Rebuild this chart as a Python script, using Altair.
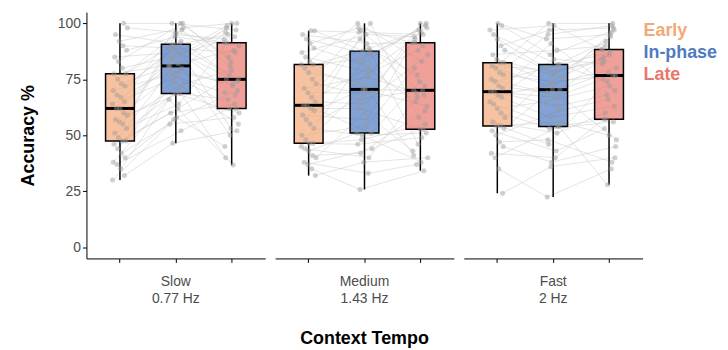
import altair as alt
import pandas as pd

FONT = "Liberation Sans"

tempos = ["Slow|0.77 Hz", "Medium|1.43 Hz", "Fast|2 Hz"]
conditions = ["Early", "In-phase", "Late"]
colors = ["#F3A878", "#4F7BC1", "#E8786D"]

# accuracy (%) per subject, in subject order, for each tempo x condition
slow_early = [30, 32, 35, 37, 38, 40, 42, 44, 46, 47.5, 47.5, 49, 51, 53, 55, 56, 57, 59, 60, 62,
              62, 64, 65, 67, 68, 70, 72, 73, 75, 77.5, 77.5, 80, 83, 85, 88, 90, 92, 95, 98, 100]
slow_inphase = [58, 46.5, 66, 52, 71, 57, 55, 80, 62, 74, 60, 86, 64, 68.7, 90, 73, 68.7, 95, 77, 81,
                100, 76, 84, 79, 92, 78, 88, 81, 97, 82, 90.7, 85, 100, 87, 94, 89, 98, 90.7, 96, 100]
slow_late = [45, 52, 36.7, 62, 40, 70, 58, 50, 75, 55, 64, 53, 91.3, 60, 68, 79, 66, 93, 62, 72,
             85, 69, 100, 73, 77, 96, 74, 88, 81, 98, 75, 94, 83, 99, 90, 87, 100, 95, 91.3, 97]

medium_early = [32, 35, 37, 38, 40, 41, 43, 44, 45, 46.4, 46.4, 48, 50, 53, 55, 57, 59, 61, 62, 63.4,
                63.4, 65, 67, 69, 71, 73, 75, 78, 80, 81.6, 81.6, 83, 85, 87, 89, 91, 93, 95, 96.7, 96.7]
medium_inphase = [38, 25.8, 44, 33, 60, 42, 51, 40, 72, 48, 46, 87.6, 54, 50, 66, 100, 57, 70.5, 62, 51,
                  80, 64, 93, 69, 76, 68, 97, 74, 89, 70.5, 84, 100, 78, 95, 82, 98, 86, 91, 87.6, 96]
medium_late = [40, 34.2, 52.7, 37, 43, 61, 38, 67, 41, 55, 49, 46, 80, 51, 70.1, 58, 93, 63, 52.7, 74,
               65, 86, 68, 100, 69, 91.3, 72, 96, 77, 70.1, 99, 83, 88, 94, 100, 90, 97, 91.3, 98, 95]

fast_early = [24.1, 35, 40, 42, 45, 47, 50, 52, 53, 54.2, 54.2, 56, 58, 60, 62, 64, 65, 67, 68, 69.5,
              69.5, 71, 72, 74, 75, 77, 78, 80, 81, 82.4, 82.4, 84, 86, 88, 90, 93, 95, 97, 99, 100]
fast_inphase = [36, 22.4, 53.9, 40, 38, 48, 61, 43, 70.4, 46, 56, 51, 77, 53, 65, 53.9, 84, 58, 72, 63,
                67, 91, 69, 81.6, 68, 74, 95, 70.4, 79, 73, 100, 76, 88, 78, 97, 80, 81.6, 99, 86, 93]
fast_late = [40, 35, 27.9, 57.2, 45, 38, 66, 53, 48, 76.7, 50, 60, 88.3, 56, 72, 57.2, 82, 63, 94, 68,
             75, 70, 96, 74, 85, 76.7, 99, 78, 83, 80, 100, 86, 90, 84, 98, 87, 92, 88.3, 97, 95]

values = {
    tempos[0]: [slow_early, slow_inphase, slow_late],
    tempos[1]: [medium_early, medium_inphase, medium_late],
    tempos[2]: [fast_early, fast_inphase, fast_late],
}

rows = []
for ti, t in enumerate(tempos):
    for ci, c in enumerate(conditions):
        for si, v in enumerate(values[t][ci]):
            rows.append({"tempo": t, "cond": c, "subj": si, "ti": ti, "ci": ci, "acc": v})
df = pd.DataFrame(rows)

xenc = alt.X("cond:N", sort=conditions,
             scale=alt.Scale(paddingInner=0, paddingOuter=0.1),
             axis=alt.Axis(labels=False, title=None, ticks=True, tickSize=4, domain=True))
yenc = alt.Y("acc:Q", scale=alt.Scale(domain=[-5, 105], nice=False, zero=False),
             axis=alt.Axis(values=[0, 25, 50, 75, 100], title="Accuracy %", grid=False,
                           tickSize=4, titlePadding=20))
joff = alt.XOffset("jit:Q", scale=alt.Scale(domain=[-0.5, 0.5], range=[20.6, 35.6]))
cenc = alt.Color("cond:N", scale=alt.Scale(domain=conditions, range=colors), legend=None)

lines = alt.Chart().mark_line(color="#c8c8c8", strokeWidth=1, opacity=0.5).encode(
    x=xenc, xOffset=joff, y=yenc, detail="subj:N")

box = alt.Chart().mark_boxplot(
    extent="min-max", size=29, ticks=False, outliers=False,
    box={"stroke": "black", "strokeWidth": 1.5, "fillOpacity": 0.7},
    median={"color": "black", "thickness": 3, "opacity": 1},
    rule={"color": "black", "strokeWidth": 1.5},
).encode(x=xenc, y=yenc, color=cenc)

points = alt.Chart().mark_circle(size=26, color="#9a9a9a", opacity=0.45).encode(
    x=xenc, xOffset=joff, y=yenc)

layered = alt.layer(lines, box, points, data=df).transform_calculate(
    jit="((datum.subj * 37 + datum.ci * 53 + datum.ti * 19) % 21) / 20 - 0.5"
).properties(width=180, height=248)

facet = layered.facet(
    column=alt.Column("tempo:N", sort=tempos, title="Context Tempo",
                      header=alt.Header(labelOrient="bottom", titleOrient="bottom",
                                        labelExpr="split(datum.value, '|')",
                                        labelFontSize=14, labelColor="#4D4D4D", labelFont=FONT,
                                        labelPadding=12, labelLineHeight=17,
                                        titleFontSize=18, titleFontWeight="bold", titleColor="black",
                                        titleFont=FONT, titlePadding=14)),
    spacing=10,
)

legend_df = pd.DataFrame({"cond": conditions})
legend = alt.Chart(legend_df).mark_text(
    align="left", baseline="middle", fontSize=18, fontWeight="bold", font=FONT
).encode(
    x=alt.value(1),
    y=alt.Y("cond:N", sort=conditions, axis=None,
            scale=alt.Scale(range=[19, 63], padding=0)),
    text="cond:N",
    color=cenc,
).properties(width=78, height=248)

chart = alt.hconcat(facet, legend, spacing=0).properties(
    padding={"top": 3, "left": 11, "right": 0, "bottom": 0}
).configure_axis(
    labelFont=FONT, labelFontSize=14, labelColor="#4D4D4D",
    titleFont=FONT, titleFontSize=18, titleFontWeight="bold", titleColor="black",
    domainColor="black", tickColor="black", domainWidth=1, tickWidth=1,
).configure_view(stroke=None)

chart.save("out.html", embed_options={"renderer": "svg", "actions": False})
